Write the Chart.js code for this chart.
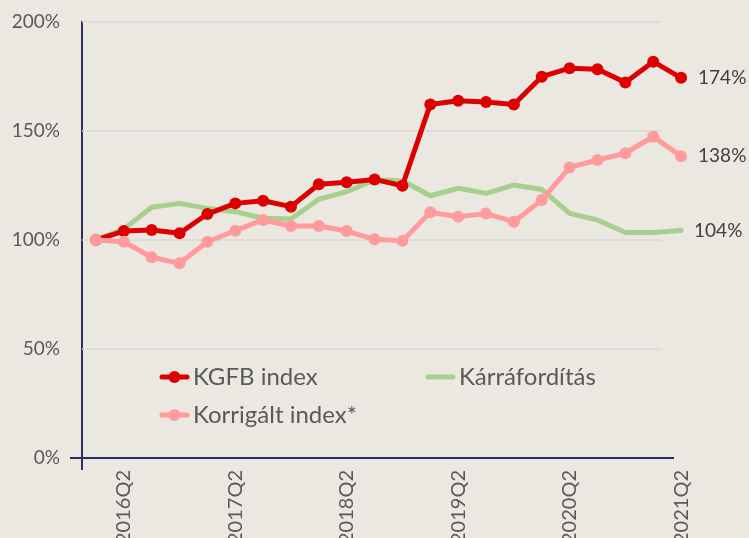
<!DOCTYPE html>
<html lang="hu">
<head>
<meta charset="UTF-8">
<title>KGFB index</title>
<script src="https://cdn.jsdelivr.net/npm/chart.js"></script>
<style>
  html, body { margin: 0; padding: 0; background: #EBE8E2; overflow: hidden; }
  .chart-box { width: 749px; height: 538px; position: relative; }
</style>
</head>
<body>
<div class="chart-box"><canvas id="indexChart"></canvas></div>
<script>
const quarters = [
  '2016Q1', '2016Q2', '2016Q3', '2016Q4',
  '2017Q1', '2017Q2', '2017Q3', '2017Q4',
  '2018Q1', '2018Q2', '2018Q3', '2018Q4',
  '2019Q1', '2019Q2', '2019Q3', '2019Q4',
  '2020Q1', '2020Q2', '2020Q3', '2020Q4',
  '2021Q1', '2021Q2'
];
const kgfbIndex = [
  100, 104.1, 104.6, 103.1, 111.9, 116.8, 118.0, 115.3, 125.6, 126.5, 127.8, 124.9,
  162.2, 163.9, 163.3, 162.2, 174.9, 178.8, 178.3, 172.3, 181.8, 174.4
];
const karraforditas = [
  100, 105, 115, 116.8, 114.5, 113, 110, 109.6, 118.7, 122.2, 127.5, 127.2,
  120.3, 123.7, 121.4, 125.2, 123.2, 112.2, 109.2, 103.4, 103.4, 104.4
];
const korrigaltIndex = [
  100, 99.2, 92.1, 89.3, 99.2, 104.3, 109.2, 106.4, 106.4, 104.1, 100.3, 99.6,
  112.7, 110.7, 112.1, 108.4, 118.3, 133.3, 136.7, 139.8, 147.4, 138.4
];
const yMin = 0, yMax = 200, yStep = 50;

const axisColor = '#2E2E5E';
const textFont = 'Lato';

// gridlines and x axis line stop a bit short of the right edge, as in the original
const plotFrame = {
  id: 'plotFrame',
  beforeDatasetsDraw(chart) {
    const ctx = chart.ctx;
    const area = chart.chartArea;
    const y = chart.scales.y;
    ctx.save();
    ctx.lineWidth = 1.5;
    ctx.strokeStyle = '#DAD8D2';
    y.ticks.forEach(t => {
      if (t.value === yMin) return;
      const py = y.getPixelForValue(t.value);
      ctx.beginPath();
      ctx.moveTo(area.left, py);
      ctx.lineTo(area.right - 33, py);
      ctx.stroke();
    });
    ctx.lineWidth = 2;
    ctx.strokeStyle = axisColor;
    ctx.beginPath();
    ctx.moveTo(area.left, area.bottom);
    ctx.lineTo(area.right - 21, area.bottom);
    ctx.stroke();
    ctx.restore();
  }
};

// value labels next to the last point of each series
const endLabels = {
  id: 'endLabels',
  afterDatasetsDraw(chart) {
    const ctx = chart.ctx;
    ctx.save();
    ctx.font = '19px ' + textFont;
    ctx.fillStyle = '#404040';
    ctx.textBaseline = 'middle';
    chart.data.datasets.forEach((ds, i) => {
      const meta = chart.getDatasetMeta(i);
      const last = meta.data[meta.data.length - 1];
      const v = ds.data[ds.data.length - 1];
      ctx.fillText(Math.round(v) + '%', last.x + (ds.pointRadius ? 17 : 13), last.y);
    });
    ctx.restore();
  }
};

// legend drawn inside the plot like the original
const innerLegend = {
  id: 'innerLegend',
  afterDraw(chart) {
    const ctx = chart.ctx;
    const slots = [
      { ds: 0, x: 162, y: 377 },
      { ds: 1, x: 428, y: 377 },
      { ds: 2, x: 162, y: 415 }
    ];
    ctx.save();
    slots.forEach(s => {
      const ds = chart.data.datasets[s.ds];
      ctx.strokeStyle = ds.borderColor;
      ctx.lineWidth = 5;
      ctx.lineCap = 'round';
      ctx.beginPath();
      ctx.moveTo(s.x, s.y);
      ctx.lineTo(s.x + 25, s.y);
      ctx.stroke();
      if (ds.pointRadius) {
        ctx.fillStyle = ds.borderColor;
        ctx.beginPath();
        ctx.arc(s.x + 12.5, s.y, ds.pointRadius, 0, Math.PI * 2);
        ctx.fill();
      }
      ctx.font = '24px ' + textFont;
      ctx.fillStyle = '#595959';
      ctx.textBaseline = 'middle';
      ctx.fillText(ds.label, s.x + 31, s.y);
    });
    ctx.restore();
  }
};

const chart = new Chart(document.getElementById('indexChart'), {
  type: 'line',
  data: {
    labels: quarters,
    datasets: [
      {
        label: 'KGFB index',
        data: kgfbIndex,
        borderColor: '#DD0000',
        backgroundColor: '#DD0000',
        borderWidth: 5,
        pointRadius: 6,
        pointBorderWidth: 0,
        order: 2
      },
      {
        label: 'Kárráfordítás',
        data: karraforditas,
        borderColor: '#A8D08D',
        backgroundColor: '#A8D08D',
        borderWidth: 5,
        pointRadius: 0,
        order: 3
      },
      {
        label: 'Korrigált index*',
        data: korrigaltIndex,
        borderColor: '#FF9B9B',
        backgroundColor: '#FF9B9B',
        borderWidth: 5,
        pointRadius: 6,
        pointBorderWidth: 0,
        order: 1
      }
    ]
  },
  options: {
    responsive: true,
    maintainAspectRatio: false,
    animation: false,
    elements: {
      line: { tension: 0, borderJoinStyle: 'round', borderCapStyle: 'round' }
    },
    layout: { padding: { top: 22, right: 54, left: 0, bottom: 0 } },
    plugins: {
      legend: { display: false },
      tooltip: { enabled: false }
    },
    scales: {
      x: {
        offset: true,
        afterFit(scale) { scale.height = 80; },
        border: { display: false },
        grid: {
          offset: true,
          drawOnChartArea: false,
          tickLength: 12,
          color: c => c.index === 0 ? axisColor : 'rgba(0,0,0,0)',
          lineWidth: 2
        },
        ticks: {
          autoSkip: false,
          minRotation: 90,
          maxRotation: 90,
          padding: 0,
          color: '#595959',
          font: { family: textFont, size: 20 },
          callback(value, index) {
            return index % 4 === 1 ? quarters[index] : '';
          }
        }
      },
      y: {
        min: yMin,
        max: yMax,
        afterFit(scale) { scale.width = 82; },
        border: { color: axisColor, width: 2 },
        grid: {
          drawOnChartArea: false,
          color: c => c.index === 0 ? axisColor : 'rgba(0,0,0,0)',
          tickLength: 12,
          lineWidth: 2
        },
        ticks: {
          stepSize: yStep,
          padding: 10,
          color: '#595959',
          font: { family: textFont, size: 19 },
          callback: v => v + '%'
        }
      }
    }
  },
  plugins: [plotFrame, endLabels, innerLegend]
});
</script>
</body>
</html>
